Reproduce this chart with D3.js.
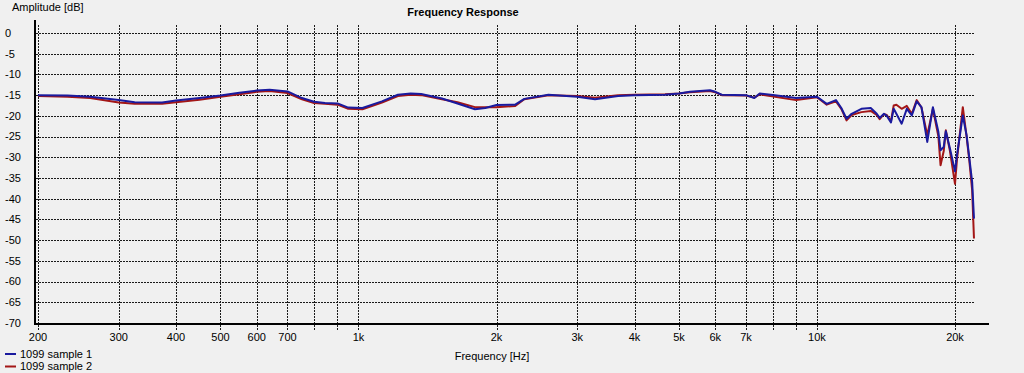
<!DOCTYPE html>
<html>
<head>
<meta charset="utf-8">
<script src="https://cdn.jsdelivr.net/npm/d3@7"></script>
<style>
  html, body { margin: 0; padding: 0; background: #f0f0f0; }
  svg { display: block; font-family: "Liberation Sans", Arial, sans-serif; font-size: 11px; }
  .grid line { stroke: #1a1a1a; stroke-width: 1; stroke-dasharray: 2,1; shape-rendering: crispEdges; }
  .axis-line { stroke: #000; stroke-width: 2; shape-rendering: crispEdges; }
  .curve { fill: none; stroke-width: 2; stroke-linejoin: round; }
</style>
</head>
<body>
<div id="chart"></div>
<script>
// frequencies in Hz (shared by both measurements)
const freqs = [200, 232, 260, 300, 325, 373, 400, 450, 500, 550, 600, 640, 700, 753, 800, 845, 900, 950,
  1020, 1125, 1219, 1300, 1370, 1521, 1644, 1795, 1890, 2000, 2197, 2300, 2596, 3000, 3280, 3683, 4000,
  4663, 5000, 5284, 5843, 6000, 6200, 7000, 7300, 7500, 8100, 9000, 10000, 10500, 11000, 11300, 11600,
  11900, 12500, 13100, 13500, 13700, 14000, 14200, 14500, 14700, 14900, 15300, 15700, 16100, 16500,
  16900, 17400, 17900, 18400, 18600, 18900, 19100, 19500, 20000, 20200, 20800, 21200, 21500, 21800, 22000];

// amplitude in dB
const sample1 = [-15.0, -15.1, -15.4, -16.2, -16.7, -16.8, -16.3, -15.7, -15.1, -14.4, -13.9, -13.7, -14.1,
  -15.7, -16.6, -16.9, -17.0, -18.0, -18.1, -16.5, -14.9, -14.6, -14.7, -15.8, -17.0, -18.4, -18.1, -17.4,
  -17.3, -15.9, -14.9, -15.4, -16.0, -15.2, -15.0, -14.9, -14.6, -14.2, -13.8, -14.2, -14.9, -15.0, -15.7,
  -14.6, -15.0, -15.7, -15.4, -17.1, -16.2, -18.1, -20.7, -19.5, -18.3, -18.1, -19.5, -20.5, -19.5, -20.0,
  -21.6, -18.3, -19.5, -21.9, -18.3, -19.9, -16.5, -17.9, -26.3, -17.9, -23.9, -28.3, -27.5, -23.7, -27.9,
  -33.4, -29.5, -19.9, -24.7, -30.3, -36.0, -44.8];

const sample2 = [-15.2, -15.4, -15.7, -16.8, -17.1, -17.1, -16.7, -16.1, -15.4, -14.8, -14.2, -14.0, -14.5,
  -16.0, -16.9, -17.1, -17.3, -18.3, -18.4, -16.8, -15.2, -14.9, -15.0, -16.0, -16.7, -17.9, -17.9, -17.9,
  -17.6, -16.0, -15.0, -15.2, -15.6, -15.0, -14.9, -14.8, -14.6, -14.3, -14.0, -14.3, -15.0, -15.1, -15.6,
  -14.8, -15.4, -16.2, -15.5, -17.3, -16.5, -18.3, -21.1, -19.8, -19.1, -18.8, -19.8, -20.8, -19.6, -19.8,
  -21.3, -17.5, -17.3, -18.3, -17.6, -19.5, -16.2, -18.0, -24.7, -18.3, -25.0, -31.9, -28.5, -23.5, -28.5,
  -36.4, -30.5, -17.9, -25.0, -31.0, -38.0, -49.6];

const gridFreqs = [200, 300, 400, 500, 600, 700, 800, 900, 1000, 2000, 3000, 4000, 5000, 6000, 7000,
  8000, 9000, 10000, 20000];
const tickLabels = {200: '200', 300: '300', 400: '400', 500: '500', 600: '600', 700: '700', 1000: '1k',
  2000: '2k', 3000: '3k', 4000: '4k', 5000: '5k', 6000: '6k', 7000: '7k', 10000: '10k', 20000: '20k'};
const dbTicks = d3.range(0, -71, -5);

const series = [
  {name: '1099 sample 2', values: sample2, color: '#a31616'},
  {name: '1099 sample 1', values: sample1, color: '#1a1a9e'}
];

const width = 1024;
const height = 373;

const svg = d3.select('#chart').append('svg')
  .attr('width', width)
  .attr('height', height);

// 200 Hz at 38px, 458.5 px per decade
const x = d3.scaleLog()
  .domain([200, 24000])
  .range([38, 38 + 458.5 * Math.log10(120)]);

const y = d3.scaleLinear()
  .domain([0, -70])
  .range([33, 323]);

const gridRight = x(22000);

// horizontal grid
svg.append('g').attr('class', 'grid')
  .selectAll('line')
  .data(dbTicks)
  .enter()
  .append('line')
    .attr('x1', 36)
    .attr('x2', gridRight)
    .attr('y1', d => Math.round(y(d)) + 0.5)
    .attr('y2', d => Math.round(y(d)) + 0.5);

// vertical grid (runs a little below the axis as tick marks)
svg.append('g').attr('class', 'grid')
  .selectAll('line')
  .data(gridFreqs)
  .enter()
  .append('line')
    .attr('x1', d => Math.round(x(d)) + 0.5)
    .attr('x2', d => Math.round(x(d)) + 0.5)
    .attr('y1', 25)
    .attr('y2', 330);

// y labels
svg.append('g')
  .selectAll('text')
  .data(dbTicks)
  .enter()
  .append('text')
    .attr('x', 5)
    .attr('y', d => y(d))
    .attr('dy', '0.35em')
    .attr('fill', '#000')
    .text(d => d);

// x labels
svg.append('g')
  .selectAll('text')
  .data(gridFreqs.filter(d => tickLabels[d]))
  .enter()
  .append('text')
    .attr('x', d => x(d))
    .attr('y', 341)
    .attr('text-anchor', 'middle')
    .attr('fill', '#000')
    .text(d => tickLabels[d]);

// curves
const line = d3.line()
  .x((d, i) => x(freqs[i]))
  .y(d => y(d));

svg.append('g')
  .selectAll('path')
  .data(series)
  .enter()
  .append('path')
    .attr('class', 'curve')
    .attr('stroke', d => d.color)
    .attr('d', d => line(d.values));

// axis lines
svg.append('line').attr('class', 'axis-line')
  .attr('x1', 35).attr('x2', 35).attr('y1', 20).attr('y2', 325);
svg.append('line').attr('class', 'axis-line')
  .attr('x1', 34).attr('x2', 989).attr('y1', 324).attr('y2', 324);

// titles
svg.append('text')
  .attr('x', 463)
  .attr('y', 16)
  .attr('text-anchor', 'middle')
  .attr('font-weight', 'bold')
  .text('Frequency Response');

svg.append('text')
  .attr('x', 12)
  .attr('y', 11)
  .text('Amplitude [dB]');

svg.append('text')
  .attr('x', 492)
  .attr('y', 360)
  .attr('text-anchor', 'middle')
  .text('Frequency [Hz]');

// legend
const legend = svg.append('g')
  .selectAll('g')
  .data(series.slice().reverse())
  .enter()
  .append('g')
    .attr('transform', (d, i) => `translate(0,${354 + i * 12.5})`);

legend.append('line')
  .attr('x1', 5).attr('x2', 16)
  .attr('stroke', d => d.color)
  .attr('stroke-width', 2);

legend.append('text')
  .attr('x', 20)
  .attr('dy', '0.35em')
  .text(d => d.name);
</script>
</body>
</html>
